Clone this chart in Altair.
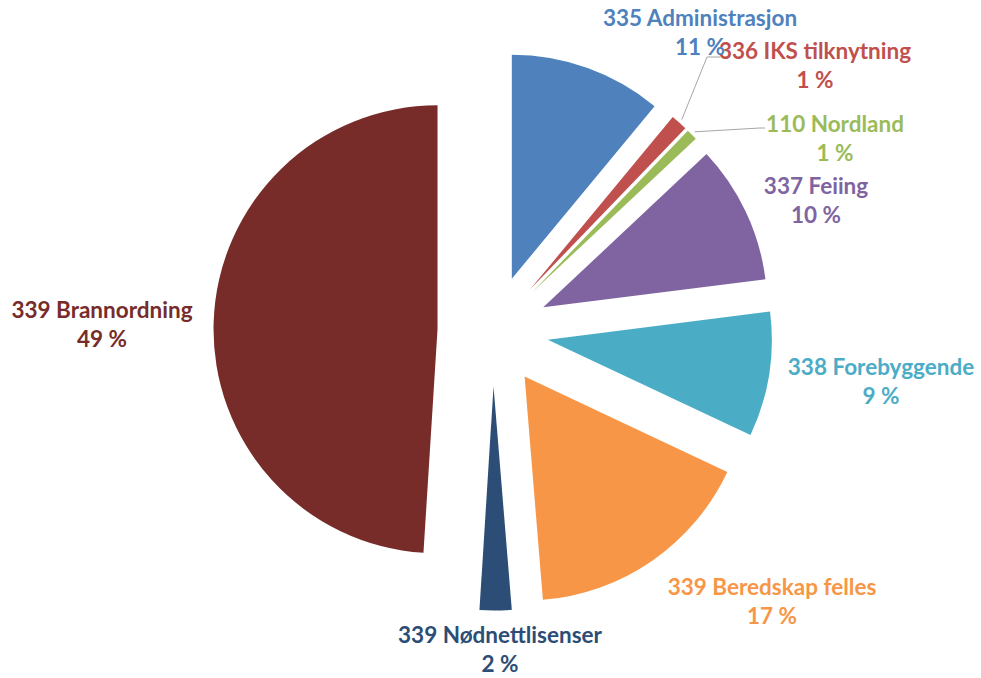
import math
import altair as alt
import pandas as pd

# ---- data ----
names = ["335 Administrasjon", "336 IKS tilknytning", "110 Nordland", "337 Feiing",
         "338 Forebyggende", "339 Beredskap felles", "339 Nødnettlisenser", "339 Brannordning"]
values = [11.0, 1.2, 0.8, 10.0, 9.0, 16.7, 2.3, 49.0]
pct_labels = ["11 %", "1 %", "1 %", "10 %", "9 %", "17 %", "2 %", "49 %"]

# ---- style / layout ----
colors = ["#4F81BD", "#C0504D", "#9BBB59", "#8064A2", "#4BACC6", "#F79646", "#2C4D75", "#772C2A"]
CX, CY, R, EXPLODE = 493, 331, 224, 55.5
label_x = [700, 815, 835, 816, 881, 772, 500, 102]
label_y = [19, 52, 125, 187, 368, 588, 636, 311]
LINE_GAP = 28.5
FONT = "Lato"
FSIZE = 22.5
# leader line elbows / ends (label side) for slices that have them
leader_pts = {1: [(707, 57), (720, 57)], 2: [(760, 128), (765, 128)]}

total = sum(values)
df = pd.DataFrame({"idx": list(range(len(names))), "name": names, "value": values,
                   "pct": pct_labels, "lx": label_x, "ly": label_y})
df["ly2"] = df["ly"] + LINE_GAP

color_scale = alt.Scale(domain=names, range=colors)

arcs = (
    alt.Chart(df)
    .transform_window(c1="sum(value)", sort=[alt.SortField("idx")], frame=[None, 0])
    .transform_calculate(
        c0="datum.c1 - datum.value",
        mid=f"(datum.c1 - datum.value/2) / {total} * 2 * PI",
        ex=f"{CX} + {EXPLODE} * sin(datum.mid)",
        ey=f"{CY} - {EXPLODE} * cos(datum.mid)",
    )
    .mark_arc(outerRadius=R)
    .encode(
        theta=alt.Theta("c0:Q", scale=alt.Scale(domain=[0, total], range=[0, 2 * math.pi]), stack=False),
        theta2=alt.Theta2("c1:Q"),
        x=alt.X("ex:Q", scale=None, stack=False),
        y=alt.Y("ey:Q", scale=None, stack=False),
        color=alt.Color("name:N", scale=color_scale, legend=None),
    )
)

# leader lines: start at slice outer edge (from values), then to label
rows = []
cum = 0.0
for i, v in enumerate(values):
    mid = (cum + v / 2) / total * 2 * math.pi
    cum += v
    if i in leader_pts:
        cx = CX + EXPLODE * math.sin(mid)
        cy = CY - EXPLODE * math.cos(mid)
        sx = cx + (R + 4) * math.sin(mid)
        sy = cy - (R + 4) * math.cos(mid)
        pts = [(sx, sy)] + leader_pts[i]
        for k, (px, py) in enumerate(pts):
            rows.append({"lid": i, "k": k, "px": px, "py": py})
leaders = (
    alt.Chart(pd.DataFrame(rows))
    .mark_line(color="#A6A6A6", strokeWidth=1)
    .encode(x=alt.X("px:Q", scale=None), y=alt.Y("py:Q", scale=None),
            detail="lid:N", order="k:Q")
)

text1 = (
    alt.Chart(df)
    .mark_text(font=FONT, fontSize=FSIZE, fontWeight="bold", align="center", baseline="middle")
    .encode(x=alt.X("lx:Q", scale=None), y=alt.Y("ly:Q", scale=None), text="name:N",
            color=alt.Color("name:N", scale=color_scale, legend=None))
)
text2 = (
    alt.Chart(df)
    .mark_text(font=FONT, fontSize=FSIZE, fontWeight="bold", align="center", baseline="middle")
    .encode(x=alt.X("lx:Q", scale=None), y=alt.Y("ly2:Q", scale=None), text="pct:N",
            color=alt.Color("name:N", scale=color_scale, legend=None))
)

chart = (
    alt.layer(arcs, leaders, text1, text2)
    .properties(width=981, height=678, autosize=alt.AutoSizeParams(type="none"), padding=0,
                background="white")
    .configure_view(stroke=None)
)

chart.save("out.html", embed_options={"renderer": "svg", "actions": False})
